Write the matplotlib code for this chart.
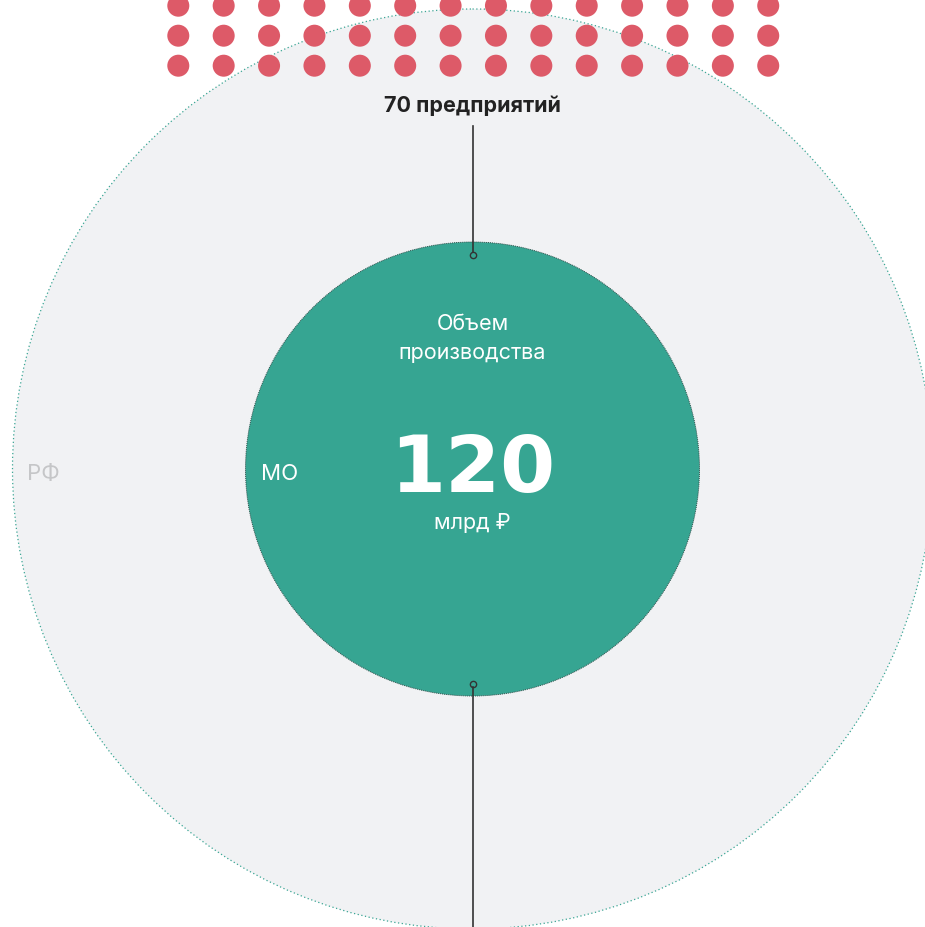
import matplotlib.pyplot as plt
from matplotlib.patches import Circle

plt.rcParams['font.family'] = ['Inter', 'DejaVu Sans']

# data
companies_label = "70 предприятий"
value = 120
value_unit = "млрд ₽"
value_title = ["Объем", "производства"]
outer_label = "РФ"
inner_label = "МО"
dot_cols = 14
dot_rows = 3

W, H = 925, 928
fig = plt.figure(figsize=(W / 100, H / 100), dpi=100)
ax = fig.add_axes([0, 0, 1, 1])
ax.set_xlim(0, W)
ax.set_ylim(H, 0)
ax.set_aspect('equal')
ax.axis('off')

cx, cy = 472.5, 470

# big circle (РФ)
ax.add_patch(Circle((cx, cy), 460, facecolor='#f1f2f4', edgecolor='#3aa594',
                    linestyle=(0, (1, 2)), linewidth=0.9, zorder=1))

# red dots on top
for r in range(dot_rows):
    for c in range(dot_cols):
        ax.add_patch(Circle((178.3 + c * 45.38, 6.7 + r * 30), 11,
                            facecolor='#dd5a68', edgecolor='none', zorder=3))

# inner circle (МО)
ax.add_patch(Circle((cx, cy), 227, facecolor='#36a592', edgecolor='#2f4f4a',
                    linestyle=(0, (1, 1)), linewidth=0.7, zorder=2))

# leader lines
ax.plot([cx, cx], [127, 253], color='#333333', lw=1.2, zorder=4)
ax.plot([cx, cx], [688, H], color='#333333', lw=1.2, zorder=4)
ax.plot([cx, cx], [256, 685], linestyle='none', marker='o', ms=4.5,
        mfc='none', mec='#333333', mew=1.0, zorder=5)

ax.text(cx, 106, companies_label, ha='center', va='center', fontsize=15.5,
        fontweight='bold', color='#222222', zorder=5)
ax.text(cx, 324, value_title[0], ha='center', va='center', fontsize=15.5,
        color='white', zorder=5)
ax.text(cx, 353, value_title[1], ha='center', va='center', fontsize=15.5,
        color='white', zorder=5)
ax.text(cx, 470, str(value), ha='center', va='center', fontsize=57,
        fontweight='bold', color='white', family='DejaVu Sans', zorder=5)
ax.text(cx, 523, value_unit, ha='center', va='center', fontsize=15.5,
        color='white', zorder=5)
ax.text(261, 474, inner_label, ha='left', va='center', fontsize=16,
        color='white', zorder=5)
ax.text(27, 474, outer_label, ha='left', va='center', fontsize=16,
        color='#c5c6c8', zorder=5)

fig.savefig('out.png', dpi=100, facecolor='white')
